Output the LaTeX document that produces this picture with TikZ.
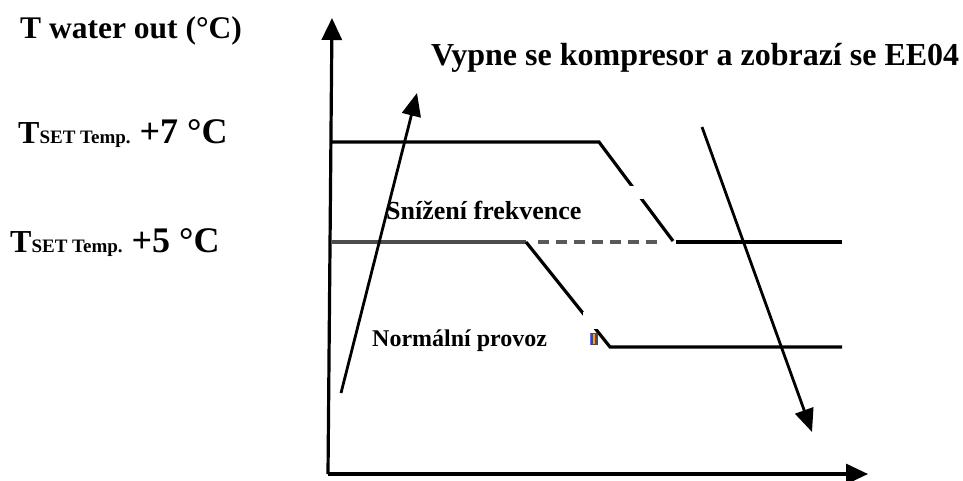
\documentclass[tikz,border=0pt]{standalone}
\usepackage{fontspec}
\setmainfont{Liberation Serif}
\usetikzlibrary{arrows.meta}
\begin{document}
\begin{tikzpicture}[x=1pt,y=-1pt,
  axis/.style={line width=3.2pt,-{Triangle[length=22pt,width=20pt]}},
  curve/.style={line width=3.2pt,black},
  greycurve/.style={line width=3.4pt,black!70},
  dashline/.style={line width=3.2pt,black!65,dash pattern=on 11pt off 7pt},
  trend/.style={line width=2.8pt,-{Triangle[length=23pt,width=19pt]}},
  big/.style={font=\fontsize{32}{34}\selectfont\bfseries,anchor=base west,inner sep=0pt},
  mid/.style={font=\fontsize{24}{26}\selectfont\bfseries,anchor=base west,inner sep=0pt},
  gap/.style={fill=white,draw=none}]
\useasboundingbox (0,0) rectangle (963,480);
% axes
\coordinate (O) at (328,474);
\coordinate (Ytop) at (332,18);
\coordinate (Xend) at (868,474);
\draw[axis] (O) -- (Ytop);
\draw[axis] (O) -- (Xend);
% upper (7 C) curve
\coordinate (u0) at (332,142);
\coordinate (u1) at (599,142);
\coordinate (u2) at (673,241);
\coordinate (u3) at (676,242);
\coordinate (u4) at (842,242);
\draw[curve] (u0) -- (u1) -- (u2);
\draw[curve] (u3) -- (u4);
\fill[gap] (629,186) rectangle (645,199);
% lower (5 C) curve
\coordinate (l0) at (332,242);
\coordinate (l1) at (526,242);
\coordinate (l2) at (610,347);
\coordinate (l3) at (842,347);
\coordinate (d0) at (538,242);
\coordinate (d1) at (661,242);
\draw[greycurve] (l0) -- (l1);
\draw[curve] (l1) -- (l2) -- (l3);
\draw[dashline] (d0) -- (d1);
\fill[gap] (583,312) rectangle (598,329);
% small icon
\fill[black!70] (590,333) rectangle (598,345);
\draw[blue!60,line width=1pt] (590.5,333) -- (590.5,345);
\fill[orange!80] (593,334) rectangle (595,344);
% trend arrows
\coordinate (r0) at (341,393);
\coordinate (r1) at (417,93);
\draw[trend] (r0) -- (r1);
\coordinate (f0) at (702,127);
\coordinate (f1) at (812,432);
\draw[trend] (f0) -- (f1);
% texts
\node[big,font=\fontsize{31.5}{33}\selectfont\bfseries] (ylabel) at (20,38) {T water out (°C)};
\node[big] (title) at (431,65) {Vypne se kompresor a zobrazí se EE04};
\node[big] (t7) at (18,143) {T\fontsize{19}{21}\selectfont SET Temp.\fontsize{36}{38}\selectfont\ +7 °C};
\node[big] (t5) at (10,252) {T\fontsize{19}{21}\selectfont SET Temp.\fontsize{36}{38}\selectfont\ +5 °C};
\node[mid,font=\fontsize{26}{28}\selectfont\bfseries] (snizeni) at (386,219) {Snížení frekvence};
\node[mid] (normal) at (372,346) {Normální provoz};
\end{tikzpicture}
\end{document}
